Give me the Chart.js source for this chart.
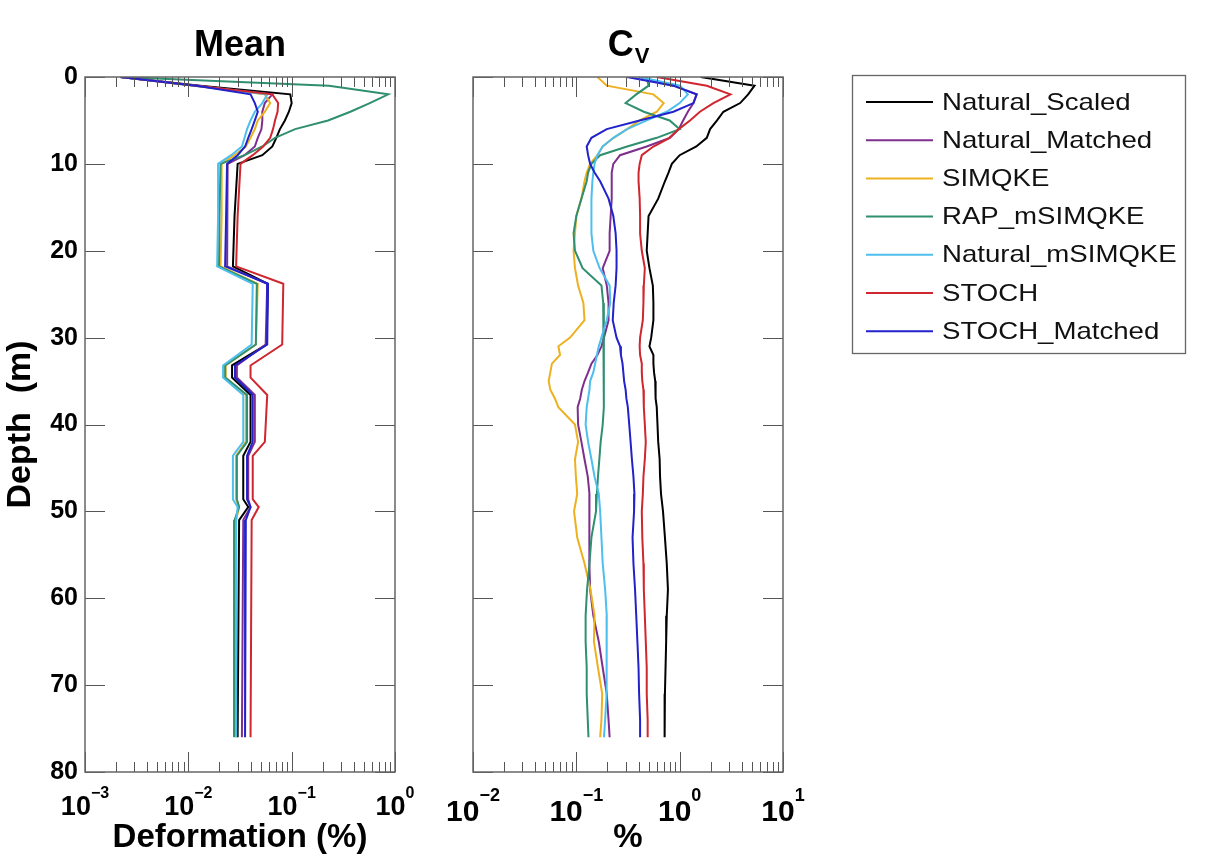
<!DOCTYPE html>
<html>
<head>
<meta charset="utf-8">
<script src="https://cdn.jsdelivr.net/npm/chart.js@4.4.1/dist/chart.umd.min.js"></script>
<style>
  html, body { margin: 0; padding: 0; background: #fff; }
  #wrap { position: relative; width: 1210px; height: 859px; }
  .panel { position: absolute; top: 0; height: 859px; }
</style>
</head>
<body>
<div id="wrap">
  <div class="panel" style="left:0;width:420px"><canvas id="meanChart"></canvas></div>
  <div class="panel" style="left:420px;width:790px"><canvas id="cvChart"></canvas></div>
</div>
<script>
const seriesNames = ['Natural_Scaled', 'Natural_Matched', 'SIMQKE', 'RAP_mSIMQKE', 'Natural_mSIMQKE', 'STOCH', 'STOCH_Matched'];
const seriesColors = ['#000000', '#7E2F8E', '#EDB120', '#2F8F6F', '#4DBEEE', '#D0262F', '#2222CC'];

const depthTicks = [0, 10, 20, 30, 40, 50, 60, 70, 80];
const meanDecades = [0.001, 0.01, 0.1, 1];
const cvDecades = [0.01, 0.1, 1, 10];

// mean deformation (%) vs depth (m)
const depthMean = [0, 1, 2, 3, 4, 5, 6, 7, 8, 9, 10, 16, 21.8, 23.8, 30.8, 33.2, 34.6, 36.6, 42, 43.6, 48.6, 49.5, 51, 76];
const meanNaturalScaled = [0.0022, 0.013, 0.097, 0.10, 0.094, 0.086, 0.077, 0.071, 0.065, 0.052, 0.030, 0.028, 0.027, 0.059, 0.057, 0.0265, 0.0265, 0.040, 0.040, 0.034, 0.034, 0.038, 0.031, 0.030];
const meanNaturalMatched = [0.0022, 0.012, 0.065, 0.055, 0.052, 0.052, 0.051, 0.047, 0.044, 0.035, 0.024, 0.0238, 0.0237, 0.058, 0.056, 0.0295, 0.0295, 0.044, 0.044, 0.038, 0.038, 0.040, 0.034, 0.033];
const meanSimqke = [0.0022, 0.0115, 0.055, 0.062, 0.055, 0.047, 0.044, 0.040, 0.036, 0.028, 0.021, 0.021, 0.0205, 0.047, 0.045, 0.023, 0.023, 0.036, 0.036, 0.029, 0.029, 0.031, 0.029, 0.029];
const meanRapMsimqke = [0.0022, 0.23, 0.86, 0.57, 0.37, 0.225, 0.108, 0.069, 0.052, 0.035, 0.0205, 0.020, 0.0198, 0.046, 0.045, 0.0227, 0.0227, 0.037, 0.037, 0.0295, 0.0295, 0.031, 0.028, 0.0277];
const meanNaturalMsimqke = [0.0022, 0.0112, 0.058, 0.052, 0.044, 0.040, 0.037, 0.035, 0.033, 0.026, 0.0194, 0.0194, 0.019, 0.042, 0.041, 0.0217, 0.0217, 0.034, 0.034, 0.027, 0.027, 0.030, 0.029, 0.029];
const meanStoch = [0.0022, 0.0118, 0.065, 0.074, 0.073, 0.069, 0.066, 0.062, 0.053, 0.042, 0.032, 0.030, 0.029, 0.083, 0.081, 0.040, 0.040, 0.058, 0.055, 0.042, 0.042, 0.048, 0.041, 0.040];
const meanStochMatched = [0.0022, 0.012, 0.040, 0.044, 0.047, 0.044, 0.041, 0.038, 0.0354, 0.030, 0.0237, 0.0232, 0.0227, 0.059, 0.058, 0.0283, 0.0283, 0.042, 0.042, 0.037, 0.037, 0.040, 0.036, 0.0354];

// coefficient of variation (%) vs depth (m)
const depthCv = [0, 1, 2, 3, 4, 5, 6, 7, 8, 9, 10, 11, 12, 14, 16, 18, 20, 22, 24, 26, 28, 30, 31, 32, 33, 34, 35, 36, 37, 38, 40, 42, 44, 46, 48, 50, 53, 56, 59, 62, 65, 68, 71, 74, 76];
const cvNaturalScaled = [1.6, 5.3, 4.6, 3.85, 2.65, 2.3, 1.97, 1.83, 1.45, 1.0, 0.84, 0.78, 0.72, 0.62, 0.50, 0.49, 0.48, 0.51, 0.55, 0.557, 0.557, 0.53, 0.51, 0.557, 0.557, 0.565, 0.58, 0.58, 0.59, 0.60, 0.61, 0.62, 0.64, 0.646, 0.66, 0.69, 0.72, 0.75, 0.77, 0.75, 0.74, 0.73, 0.72, 0.72, 0.71];
const cvNaturalMatched = [0.41, 0.87, 1.46, 1.36, 1.2, 1.08, 0.98, 0.8, 0.48, 0.265, 0.228, 0.22, 0.22, 0.22, 0.215, 0.21, 0.21, 0.18, 0.197, 0.205, 0.205, 0.185, 0.175, 0.16, 0.14, 0.13, 0.12, 0.113, 0.109, 0.103, 0.104, 0.112, 0.12, 0.129, 0.134, 0.134, 0.133, 0.134, 0.136, 0.146, 0.165, 0.18, 0.197, 0.205, 0.21];
const cvSimqke = [0.16, 0.197, 0.557, 0.70, 0.60, 0.41, 0.31, 0.23, 0.18, 0.16, 0.136, 0.126, 0.12, 0.112, 0.10, 0.097, 0.094, 0.097, 0.104, 0.117, 0.12, 0.087, 0.067, 0.0696, 0.058, 0.056, 0.054, 0.056, 0.062, 0.067, 0.097, 0.104, 0.097, 0.099, 0.102, 0.095, 0.102, 0.12, 0.137, 0.15, 0.148, 0.162, 0.178, 0.175, 0.17];
const cvRapMsimqke = [0.48, 0.5, 0.38, 0.30, 0.45, 0.8, 1.0, 0.6, 0.31, 0.17, 0.14, 0.13, 0.126, 0.112, 0.10, 0.094, 0.097, 0.115, 0.175, 0.182, 0.185, 0.185, 0.185, 0.185, 0.185, 0.185, 0.185, 0.185, 0.183, 0.183, 0.18, 0.172, 0.167, 0.162, 0.158, 0.155, 0.14, 0.134, 0.127, 0.123, 0.123, 0.126, 0.126, 0.129, 0.131];
const cvNaturalMsimqke = [0.41, 1.01, 1.2, 1.0, 0.75, 0.48, 0.31, 0.228, 0.18, 0.16, 0.15, 0.146, 0.143, 0.14, 0.14, 0.14, 0.146, 0.168, 0.21, 0.213, 0.197, 0.175, 0.165, 0.158, 0.152, 0.146, 0.136, 0.134, 0.13, 0.126, 0.123, 0.13, 0.14, 0.15, 0.165, 0.17, 0.175, 0.18, 0.19, 0.197, 0.197, 0.195, 0.197, 0.19, 0.185];
const cvStoch = [0.6, 1.83, 3.1, 2.12, 1.57, 1.26, 0.98, 0.80, 0.557, 0.43, 0.41, 0.40, 0.40, 0.41, 0.414, 0.414, 0.43, 0.46, 0.45, 0.446, 0.44, 0.414, 0.41, 0.414, 0.43, 0.43, 0.435, 0.446, 0.45, 0.45, 0.46, 0.47, 0.46, 0.446, 0.44, 0.43, 0.435, 0.446, 0.45, 0.46, 0.47, 0.48, 0.48, 0.49, 0.49];
const cvStochMatched = [0.31, 0.87, 1.46, 1.36, 0.87, 0.41, 0.197, 0.14, 0.126, 0.13, 0.136, 0.15, 0.17, 0.205, 0.228, 0.24, 0.245, 0.245, 0.24, 0.23, 0.225, 0.245, 0.265, 0.27, 0.28, 0.285, 0.29, 0.30, 0.305, 0.315, 0.325, 0.335, 0.345, 0.357, 0.365, 0.362, 0.35, 0.357, 0.37, 0.38, 0.39, 0.40, 0.405, 0.414, 0.414];

const meanSeries = [meanNaturalScaled, meanNaturalMatched, meanSimqke, meanRapMsimqke, meanNaturalMsimqke, meanStoch, meanStochMatched];
const cvSeries = [cvNaturalScaled, cvNaturalMatched, cvSimqke, cvRapMsimqke, cvNaturalMsimqke, cvStoch, cvStochMatched];

const FONT = "'Liberation Sans', Arial, Helvetica, sans-serif";

function makeDatasets(depths, series) {
  return series.map((vals, i) => ({
    label: seriesNames[i],
    data: vals.map((v, k) => ({x: v, y: depths[k]})),
    borderColor: seriesColors[i],
    backgroundColor: seriesColors[i],
    borderWidth: 2,
    pointRadius: 0,
    tension: 0,
    order: series.length - i
  }));
}

function logTicks(decades) {
  const out = [];
  for (let d = 0; d < decades.length - 1; d++) {
    for (let k = 1; k <= 9; k++) out.push({value: k * decades[d], major: k === 1});
  }
  out.push({value: decades[decades.length - 1], major: true});
  return out;
}

// box, inward tick marks, power-of-ten labels and panel title
const framePlugin = {
  id: 'frame',
  afterDraw(chart, args, opts) {
    const {ctx, chartArea: a, scales: {x, y}} = chart;
    ctx.save();
    ctx.strokeStyle = '#555';
    ctx.lineWidth = 1;
    ctx.beginPath();
    x.ticks.forEach(t => {
      const px = Math.round(x.getPixelForValue(t.value)) + 0.5;
      const len = t.major ? 20 : 10;
      ctx.moveTo(px, a.bottom); ctx.lineTo(px, a.bottom - len);
      ctx.moveTo(px, a.top); ctx.lineTo(px, a.top + len);
    });
    y.ticks.forEach(t => {
      const py = Math.round(y.getPixelForValue(t.value)) + 0.5;
      ctx.moveTo(a.left, py); ctx.lineTo(a.left + 20, py);
      ctx.moveTo(a.right, py); ctx.lineTo(a.right - 20, py);
    });
    ctx.stroke();
    ctx.lineWidth = 1.5;
    ctx.strokeStyle = '#666';
    ctx.strokeRect(a.left, a.top, a.right - a.left, a.bottom - a.top);

    // tick labels 10^n
    ctx.fillStyle = '#000';
    ctx.textAlign = 'left';
    ctx.textBaseline = 'alphabetic';
    const L = opts.labels;
    x.ticks.filter(t => t.major).forEach(t => {
      const px = x.getPixelForValue(t.value);
      const base = '10';
      const expo = String(Math.round(Math.log10(t.value))).replace('-', '\u2212');
      ctx.font = 'bold ' + L.size + 'px ' + FONT;
      const wb = ctx.measureText(base).width;
      ctx.font = 'bold ' + L.expSize + 'px ' + FONT;
      const we = ctx.measureText(expo).width;
      const x0 = px - (wb + we) / 2;
      ctx.font = 'bold ' + L.size + 'px ' + FONT;
      ctx.fillText(base, x0, L.baseY);
      ctx.font = 'bold ' + L.expSize + 'px ' + FONT;
      ctx.fillText(expo, x0 + wb, L.expY);
    });

    // panel title
    const cx = (a.left + a.right) / 2;
    ctx.font = 'bold 36px ' + FONT;
    if (opts.sub) {
      const w1 = ctx.measureText(opts.title).width;
      ctx.font = 'bold 22px ' + FONT;
      const w2 = ctx.measureText(opts.sub).width;
      const x0 = cx - (w1 + w2) / 2;
      ctx.font = 'bold 36px ' + FONT;
      ctx.fillText(opts.title, x0, 56);
      ctx.font = 'bold 22px ' + FONT;
      ctx.fillText(opts.sub, x0 + w1 + 1, 63);
    } else {
      ctx.textAlign = 'center';
      ctx.fillText(opts.title, cx, 56);
    }
    ctx.restore();
  }
};

// boxed legend to the right of the second panel
const boxLegendPlugin = {
  id: 'boxLegend',
  afterDraw(chart, args, opts) {
    if (!opts.show) return;
    const {ctx} = chart;
    const left = 432, top = 75, w = 333, h = 278;
    ctx.save();
    ctx.fillStyle = '#fff';
    ctx.fillRect(left, top, w, h);
    ctx.strokeStyle = '#666';
    ctx.lineWidth = 1.3;
    ctx.strokeRect(left + 0.5, top + 0.5, w, h);
    chart.data.datasets.forEach((ds, i) => {
      const cy = top + 27 + i * 38.2;
      ctx.strokeStyle = ds.borderColor;
      ctx.lineWidth = 2;
      ctx.beginPath();
      ctx.moveTo(left + 14, cy); ctx.lineTo(left + 81, cy);
      ctx.stroke();
      ctx.save();
      ctx.translate(left + 90, cy + 1);
      ctx.scale(1.15, 1);
      ctx.font = '24px ' + FONT;
      ctx.textAlign = 'left';
      ctx.textBaseline = 'middle';
      ctx.fillStyle = '#111';
      ctx.fillText(ds.label, 0, 0);
      ctx.restore();
    });
    ctx.restore();
  }
};

function panelConfig(depths, series, decades, o) {
  return {
    type: 'line',
    data: {datasets: makeDatasets(depths, series)},
    plugins: [framePlugin, boxLegendPlugin],
    options: {
      responsive: true,
      maintainAspectRatio: false,
      animation: false,
      indexAxis: 'y',
      layout: {padding: {top: 77, left: 0, bottom: 0, right: o.padRight}},
      plugins: {
        legend: {display: false},
        tooltip: {enabled: false},
        frame: {title: o.title, sub: o.sub, labels: o.labels},
        boxLegend: {show: o.legend}
      },
      scales: {
        x: {
          type: 'logarithmic',
          position: 'bottom',
          min: decades[0],
          max: decades[decades.length - 1],
          afterBuildTicks: s => { s.ticks = logTicks(decades); },
          afterFit: s => { s.height = 87; },
          grid: {display: false, drawTicks: false},
          border: {display: false},
          ticks: {autoSkip: false, maxRotation: 0, callback: () => ''},
          title: {display: true, text: o.xTitle, color: '#000', font: {family: FONT, size: 33, weight: 'bold'}, padding: {top: 0, bottom: 1}}
        },
        y: {
          type: 'linear',
          reverse: true,
          min: 0,
          max: 80,
          afterBuildTicks: s => { s.ticks = depthTicks.map(v => ({value: v})); },
          afterFit: s => { s.width = o.yWidth; },
          grid: {display: false, drawTicks: false},
          border: {display: false},
          ticks: {display: o.yLabels, padding: 7, color: '#000', font: {family: FONT, size: 25, weight: 'bold'}},
          title: {display: o.yLabels, text: 'Depth  (m)', color: '#000', font: {family: FONT, size: 34, weight: 'bold'}, padding: {top: 0, bottom: 0}}
        }
      }
    }
  };
}

new Chart(document.getElementById('meanChart'), panelConfig(depthMean, meanSeries, meanDecades, {
  title: 'Mean', padRight: 25, yWidth: 85, yLabels: true, xTitle: 'Deformation (%)', legend: false,
  labels: {size: 27, expSize: 16, baseY: 815, expY: 798}
}));

new Chart(document.getElementById('cvChart'), panelConfig(depthCv, cvSeries, cvDecades, {
  title: 'C', sub: 'V', padRight: 427, yWidth: 53, yLabels: false, xTitle: '%', legend: true,
  labels: {size: 30, expSize: 18, baseY: 821, expY: 801}
}));
</script>
</body>
</html>
